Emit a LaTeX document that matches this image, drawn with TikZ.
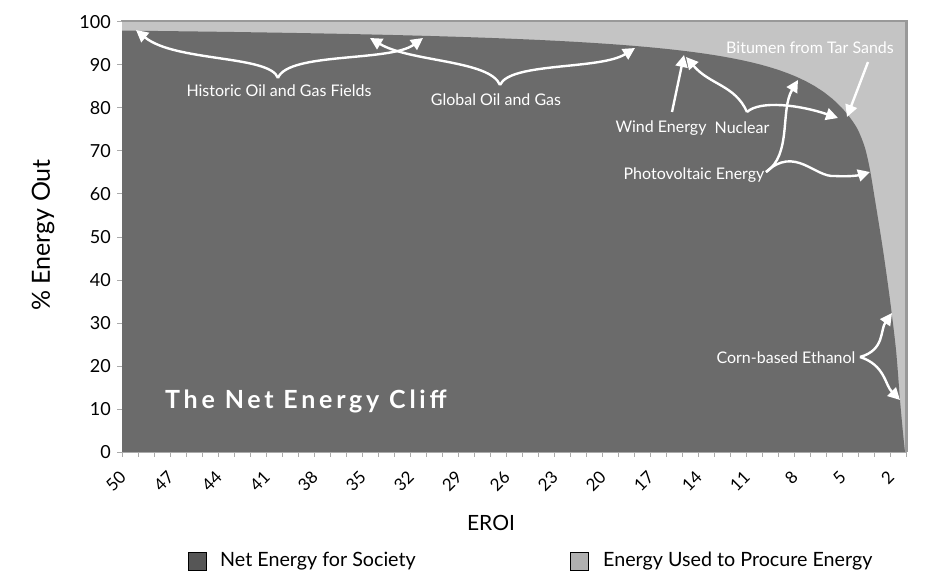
\documentclass[tikz,border=0pt]{standalone}
\usepackage{fontspec}
\setmainfont{Lato}
\usetikzlibrary{arrows.meta}
\definecolor{darkfill}{HTML}{6B6B6B}
\definecolor{lightfill}{HTML}{C4C4C4}
\definecolor{framegray}{HTML}{999999}
\definecolor{tickgray}{HTML}{AAAAAA}
\tikzset{
  note/.style={text=white, font=\fontsize{16}{18}\selectfont, inner sep=0pt},
  warrow/.style={draw=white, line width=2.4pt, -{Triangle[length=12pt,width=12pt]}},
  ylab/.style={font=\fontsize{18}{20}\selectfont, anchor=east, inner sep=0pt},
  xlab/.style={font=\fontsize{17}{19}\selectfont, anchor=east, rotate=45, inner sep=0pt},
  legbox/.style={draw=black, line width=1pt, minimum width=18pt, minimum height=18pt, inner sep=0pt},
  legtext/.style={font=\fontsize{19.7}{22}\selectfont, anchor=west, inner sep=0pt},
}
\begin{document}
\begin{tikzpicture}[x=1pt,y=-1pt]
\useasboundingbox (0,0) rectangle (950,588);
\fill[white] (0,0) rectangle (950,588);
% plot area
\fill[lightfill] (122,21) rectangle (905,452);
\fill[darkfill] (122,452) -- (122,30.6)
  -- plot[domain=122:842, samples=80] (\x, {22+430/(50-(\x-122)/16)})
  -- plot[smooth] coordinates {(842,108) (850,117.6) (858,130) (865,148) (870,170) (875,200) (883,250) (890,300) (896,350) (900,400) (903,433) (905,452)}
  -- cycle;
\draw[framegray, line width=1.5pt] (121,21) -- (906,21);
\fill[framegray] (905,20.5) rectangle (908,452);
% axes ticks
\draw[tickgray, line width=1pt] (122,452) -- (906,452);
\foreach \i in {0,...,49} { \draw[tickgray, line width=1pt] ({122+16*\i},452) -- ({122+16*\i},457); }
\foreach \v in {0,10,...,100} { \draw[tickgray, line width=1pt] (117,{452-4.3*\v}) -- (122,{452-4.3*\v}); }
% y labels
\foreach \v in {0,10,...,100} { \node[ylab] (y\v) at (111,{452-4.3*\v}) {\v}; }
% x labels
\foreach \e in {50,47,...,2} { \node[xlab] (x\e) at ({122+(50-\e)*16+1},474) {\e}; }
\node[font=\fontsize{25}{27}\selectfont, rotate=90] (ytitle) at (43,235) {\% Energy Out};
\node[font=\fontsize{21}{23}\selectfont] (xtitle) at (491,523) {EROI};
% title
\node[text=white, font=\fontsize{25}{28}\selectfont\bfseries\addfontfeature{LetterSpace=15}, anchor=west, inner sep=0pt] (title) at (165,401) {The Net Energy Cliff};
% legend
\node[legbox, fill=darkfill!80!black] (lb1) at (197,561) {};
\node[legtext] (lt1) at (220,561) {Net Energy for Society};
\node[legbox, fill=lightfill!90!black] (lb2) at (579,561) {};
\node[legtext] (lt2) at (603,561) {Energy Used to Procure Energy};
% annotations
\node[note] (hist) at (279,91) {Historic Oil and Gas Fields};
\node[note] (glob) at (496,100) {Global Oil and Gas};
\node[note] (wind) at (661,128) {Wind Energy};
\node[note] (nuc) at (742,128) {Nuclear};
\node[note] (pv) at (694,175) {Photovoltaic Energy};
\node[note] (bit) at (810,48) {Bitumen from Tar Sands};
\node[note] (corn) at (786,358) {Corn-based Ethanol};
% brace apex / tip coordinates
\coordinate (hA) at (278,78);
\coordinate (hL) at (136,30);
\coordinate (hR) at (423,38);
\coordinate (gA) at (500,85);
\coordinate (gL) at (370,38);
\coordinate (gR) at (635,48);
\coordinate (wS) at (672,112);
\coordinate (wT) at (684,55);
\coordinate (nA) at (747,112);
\coordinate (nL) at (686,57);
\coordinate (nR) at (838,118);
\coordinate (pA) at (766,172);
\coordinate (pU) at (798,80);
\coordinate (pR) at (870,172);
\coordinate (bS) at (868,62);
\coordinate (bT) at (847,117);
\coordinate (cA) at (860,357);
\coordinate (cU) at (892,313);
\coordinate (cD) at (900,400);
\draw[warrow] (hA) .. controls (270,55) and (175,62) .. (hL);
\draw[warrow] (hA) .. controls (288,52) and (390,62) .. (hR);
\draw[warrow] (gA) .. controls (490,60) and (410,62) .. (gL);
\draw[warrow] (gA) .. controls (510,62) and (600,70) .. (gR);
\draw[warrow] (wS) -- (wT);
\draw[warrow] (nA) .. controls (735,85) and (710,85) .. (nL);
\draw[warrow] (nA) .. controls (760,100) and (800,105) .. (nR);
\draw[warrow] (pA) .. controls (792,155) and (780,110) .. (pU);
\draw[warrow] (pA) .. controls (795,145) and (815,178) .. (835,176) .. controls (850,177) and (860,175) .. (pR);
\draw[warrow] (bS) -- (bT);
\draw[warrow] (cA) .. controls (885,350) and (880,330) .. (cU);
\draw[warrow] (cA) .. controls (885,365) and (885,385) .. (cD);
\end{tikzpicture}
\end{document}
